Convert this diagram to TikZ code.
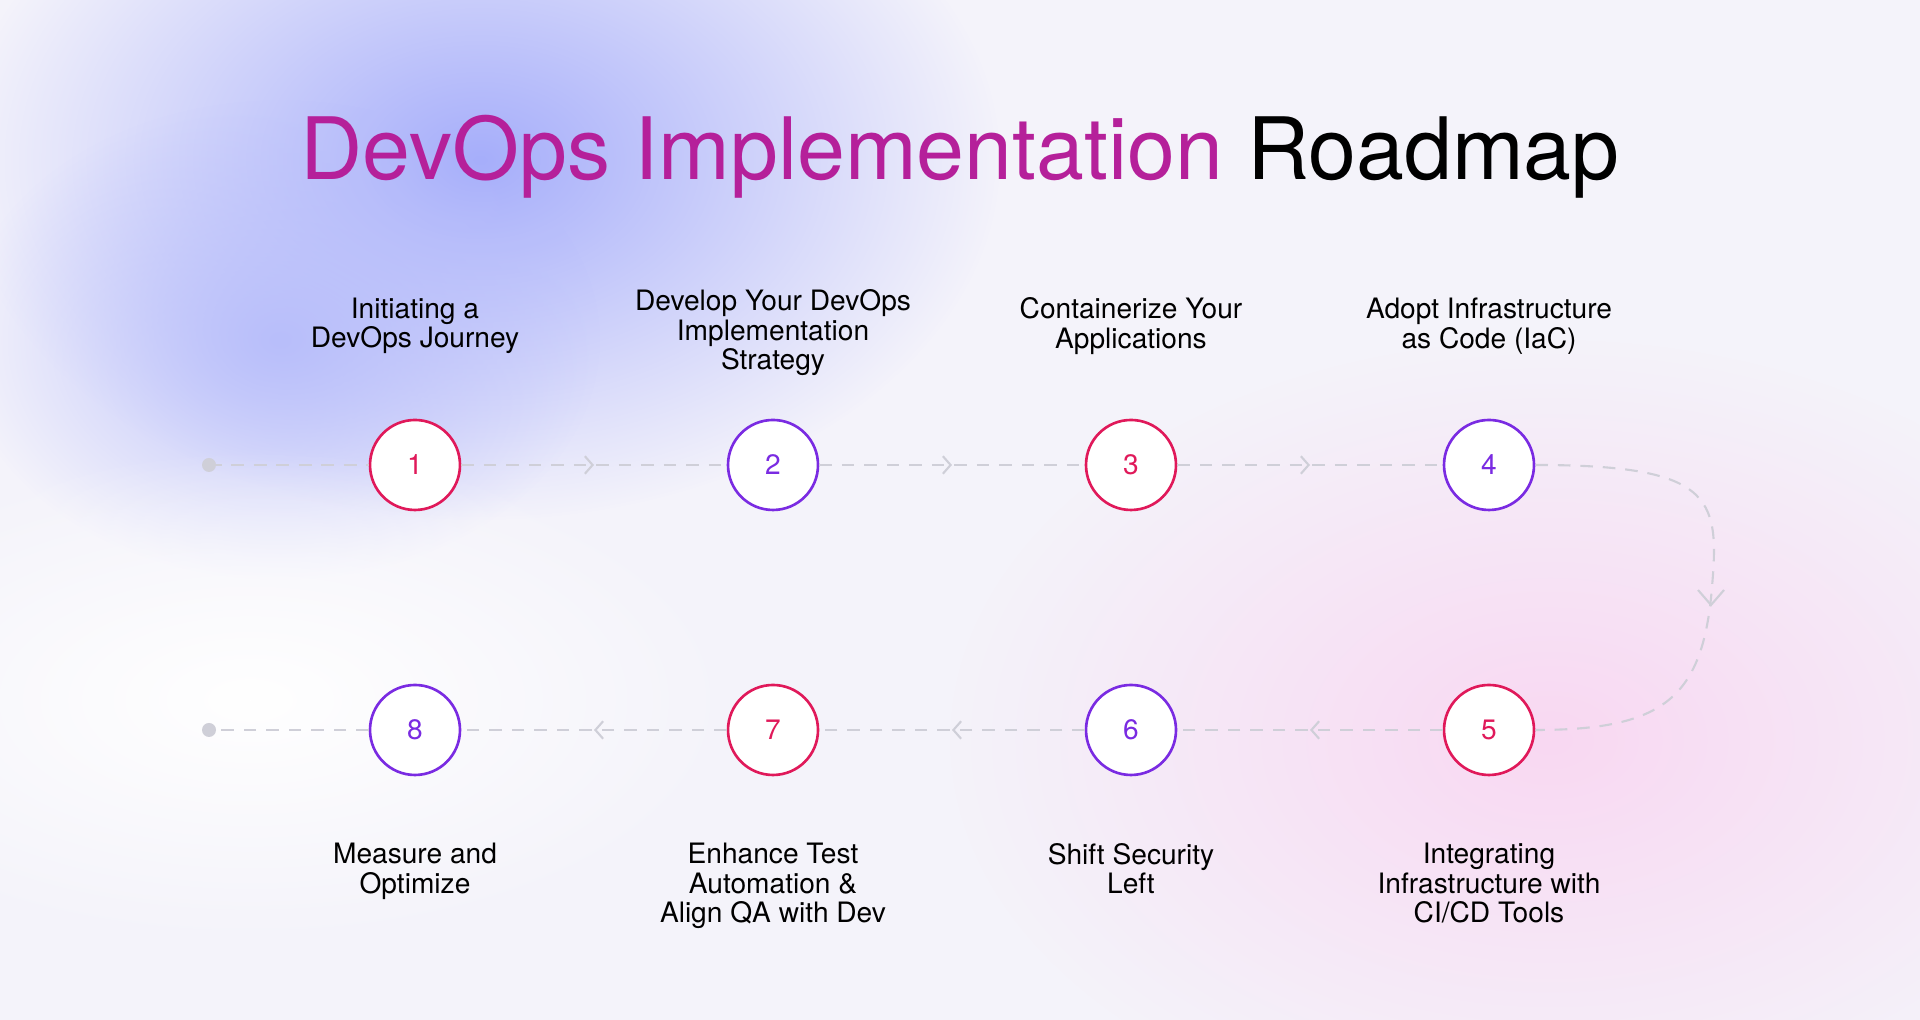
\documentclass[tikz,border=0pt]{standalone}
\usepackage{fontspec}
\setmainfont{TeX Gyre Heros}
\usepackage{xcolor}
\usetikzlibrary{arrows.meta,decorations.markings,fadings}
\definecolor{bgbase}{HTML}{F4F3FA}
\definecolor{blobblue}{HTML}{A6AEFA}
\definecolor{blobpink}{HTML}{F9D8F2}
\definecolor{stepred}{HTML}{E0195A}
\definecolor{steppurple}{HTML}{7A2BE2}
\definecolor{titlemag}{HTML}{B5209A}
\definecolor{dashgray}{HTML}{CFCFD8}
\tikzfading[name=blobfade, inner color=transparent!0, outer color=transparent!100]
\tikzset{
  stepnode/.style={circle, draw=#1, line width=0.75pt, fill=white, minimum size=0.9cm,
    inner sep=0pt, text=#1, font=\fontsize{8}{9}\selectfont},
  steplabel/.style={align=center, font=\fontsize{8}{8.4}\selectfont},
  roadline/.style={dashgray, line width=0.6pt, dash pattern=on 3.6pt off 2.8pt},
  midarrow/.style={postaction={decorate, decoration={markings,
    mark=at position 0.5 with {\arrow[dashgray, line width=0.6pt]{Straight Barb[length=2.2pt, width=5pt]}}}}}
}
\begin{document}
\begin{tikzpicture}
    % Background
    \fill[bgbase] (0,0) rectangle (19.2,10.2);
    \useasboundingbox (0,0) rectangle (19.2,10.2);
    \fill[blobblue, path fading=blobfade] (4.8,8.6) ellipse (5.2cm and 3.6cm);
    \fill[blobblue!80, path fading=blobfade] (2.8,6.8) ellipse (3.2cm and 2.4cm);
    \fill[blobpink, path fading=blobfade] (15.5,2.8) ellipse (6cm and 4cm);
    \fill[white, path fading=blobfade] (2.5,3.2) ellipse (5cm and 2.5cm);

    % Title
    \node (title) at (9.6,8.63) {\fontsize{24.5}{28}\selectfont\textcolor{titlemag}{DevOps Implementation} Roadmap};

    % Steps
    \node[stepnode=stepred] (s1) at (4.15,5.55) {1};
    \node[stepnode=steppurple] (s2) at (7.73,5.55) {2};
    \node[stepnode=stepred] (s3) at (11.31,5.55) {3};
    \node[stepnode=steppurple] (s4) at (14.89,5.55) {4};
    \node[stepnode=stepred] (s5) at (14.89,2.90) {5};
    \node[stepnode=steppurple] (s6) at (11.31,2.90) {6};
    \node[stepnode=stepred] (s7) at (7.73,2.90) {7};
    \node[stepnode=steppurple] (s8) at (4.15,2.90) {8};

    % End dots
    \fill[dashgray] (2.09,5.55) circle (0.07) coordinate (start);
    \fill[dashgray] (2.09,2.90) circle (0.07) coordinate (finish);

    % Road
    \draw[roadline] (start) -- (s1);
    \foreach \a/\b in {s1/s2, s2/s3, s3/s4, s5/s6, s6/s7, s7/s8}
      \draw[roadline, midarrow] (\a) -- (\b);
    \draw[roadline] (s8) -- (finish);
    \draw[roadline] (s4) .. controls (17.2,5.55) and (17.2,5.2) .. (17.11,4.22)
      .. controls (17.0,3.2) and (16.6,2.90) .. (s5);
    \draw[dashgray, line width=0.6pt] (16.98,4.30) -- (17.11,4.15) -- (17.24,4.30);

    % Labels
    \node[steplabel] (l1) at (4.15,6.94) {Initiating a\\DevOps Journey};
    \node[steplabel] (l2) at (7.73,6.87) {Develop Your DevOps\\Implementation\\Strategy};
    \node[steplabel] (l3) at (11.31,6.94) {Containerize Your\\Applications};
    \node[steplabel] (l4) at (14.89,6.94) {Adopt Infrastructure\\as Code (IaC)};
    \node[steplabel, anchor=north] (l5) at (14.89,1.89) {Integrating\\Infrastructure with\\CI/CD Tools};
    \node[steplabel, anchor=north] (l6) at (11.31,1.89) {Shift Security\\Left};
    \node[steplabel, anchor=north] (l7) at (7.73,1.89) {Enhance Test\\Automation \&\\Align QA with Dev};
    \node[steplabel, anchor=north] (l8) at (4.15,1.89) {Measure and\\Optimize};
\end{tikzpicture}
\end{document}
